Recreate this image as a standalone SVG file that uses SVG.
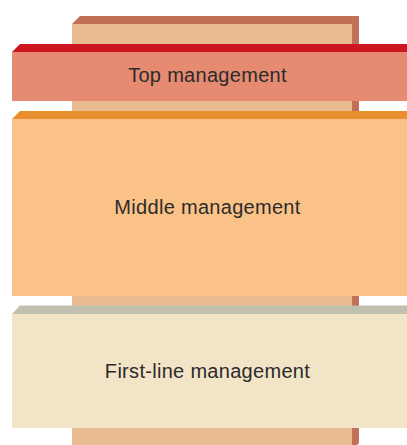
<svg xmlns="http://www.w3.org/2000/svg" width="407" height="445" viewBox="0 0 407 445">
  <style>
    .lbl { font-family: "Liberation Sans", Arial, sans-serif; font-size: 20px; fill: #2b2b2b; text-anchor: middle; letter-spacing: 0.3px; }
  </style>
  <rect x="0" y="0" width="407" height="445" fill="#ffffff"/>
  <g id="column">
    <polygon points="72,24 80,16 359,16 359,443 357,445 352,445 352,24" fill="#C16F57"/>
    <rect x="72" y="24" width="280" height="421" fill="#E8BB90"/>
  </g>
  <g id="connectors"></g>
  <g id="top-management">
    <polygon points="12,52 20,44 407,44 407,52" fill="#CC1720"/>
    <rect x="12" y="52" width="395" height="49" fill="#E68A71"/>
    <text class="lbl" x="207.5" y="82">Top management</text>
  </g>
  <g id="middle-management">
    <polygon points="12,119 20,111 407,111 407,119" fill="#E98F2F"/>
    <rect x="12" y="119" width="395" height="177" fill="#FBC287"/>
    <text class="lbl" x="207.5" y="213.5">Middle management</text>
  </g>
  <g id="first-line-management">
    <polygon points="12,314 20,305.5 407,305.5 407,314" fill="#C1C0AE"/>
    <rect x="12" y="314" width="395" height="114" fill="#F2E4C7"/>
    <text class="lbl" x="207.5" y="377.5">First-line management</text>
  </g>
</svg>
